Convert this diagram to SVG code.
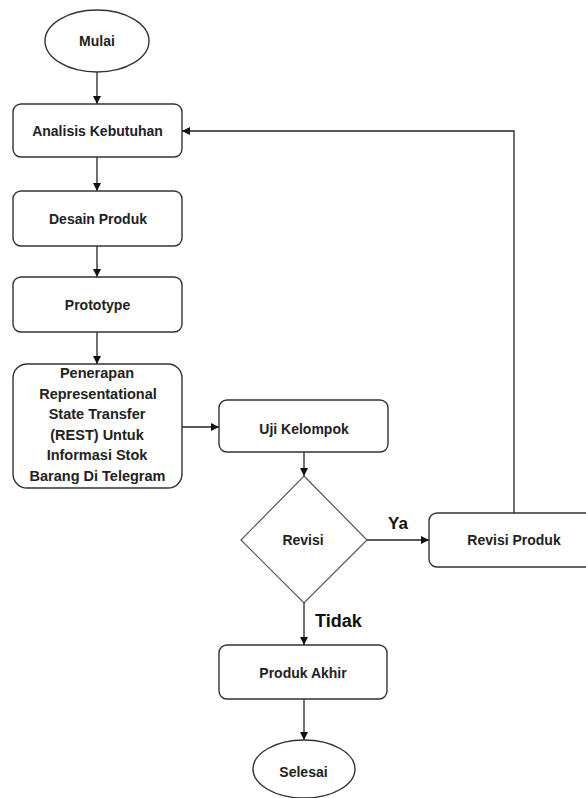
<svg xmlns="http://www.w3.org/2000/svg" width="586" height="798" viewBox="0 0 586 798">
<style>
.box{fill:#fff;stroke:#333;stroke-width:1.4}
.dia{fill:#fff;stroke:#555;stroke-width:1.2}
.lbl{font-family:"Liberation Sans",Arial,sans-serif;font-weight:bold;font-size:14px;fill:#222;text-anchor:middle}
.big{font-size:14.5px}
.yn{font-family:"Liberation Sans",Arial,sans-serif;font-weight:bold;fill:#111}
.con{fill:none;stroke:#222;stroke-width:1.3}
</style>
<defs>
<marker id="ah" viewBox="0 0 10 10" refX="10" refY="5" markerWidth="8" markerHeight="8" markerUnits="userSpaceOnUse" orient="auto">
<path d="M0,0 L10,5 L0,10 z" fill="#111"/>
</marker>
</defs>
<rect width="586" height="798" fill="#fff"/>
<g id="connectors">
<line class="con" x1="97" y1="72" x2="97" y2="104" marker-end="url(#ah)"/>
<line class="con" x1="97" y1="157" x2="97" y2="191" marker-end="url(#ah)"/>
<line class="con" x1="97" y1="246" x2="97" y2="277" marker-end="url(#ah)"/>
<line class="con" x1="97" y1="332" x2="97" y2="364" marker-end="url(#ah)"/>
<line class="con" x1="182" y1="427" x2="219" y2="427" marker-end="url(#ah)"/>
<line class="con" x1="304" y1="452" x2="304" y2="476" marker-end="url(#ah)"/>
<line class="con" x1="367" y1="540" x2="429" y2="540" marker-end="url(#ah)"/>
<polyline class="con" points="514,513 514,131 182,131" marker-end="url(#ah)"/>
<line class="con" x1="304" y1="603" x2="304" y2="645" marker-end="url(#ah)"/>
<line class="con" x1="304" y1="699" x2="304" y2="740" marker-end="url(#ah)"/>
<text class="yn" x="388" y="529" font-size="17">Ya</text>
<text class="yn" x="315" y="627" font-size="18">Tidak</text>
</g>
<g id="mulai">
<ellipse class="box" cx="97" cy="41" rx="52" ry="31"/>
<text class="lbl" x="97" y="46">Mulai</text>
</g>
<g id="analisis">
<rect class="box" x="13" y="104" width="169" height="53" rx="8"/>
<text class="lbl" x="97.5" y="136">Analisis Kebutuhan</text>
</g>
<g id="desain">
<rect class="box" x="13" y="191" width="169" height="55" rx="8"/>
<text class="lbl" x="98" y="224">Desain Produk</text>
</g>
<g id="prototype">
<rect class="box" x="13" y="277" width="169" height="55" rx="8"/>
<text class="lbl" x="97.5" y="310">Prototype</text>
</g>
<g id="penerapan">
<rect class="box" x="13" y="364" width="169" height="124" rx="14"/>
<text class="lbl big" x="97" y="378">Penerapan</text>
<text class="lbl big" x="98" y="398.5">Representational</text>
<text class="lbl big" x="97" y="419">State Transfer</text>
<text class="lbl big" x="97" y="439.5">(REST) Untuk</text>
<text class="lbl big" x="97" y="460">Informasi Stok</text>
<text class="lbl big" x="97.5" y="481">Barang Di Telegram</text>
</g>
<g id="uji">
<rect class="box" x="219" y="400" width="169" height="52" rx="8"/>
<text class="lbl" x="304" y="434">Uji Kelompok</text>
</g>
<g id="revisi">
<polygon class="dia" points="304,476 367,540 304,603 241,540"/>
<text class="lbl" x="303" y="545">Revisi</text>
</g>
<g id="revisi-produk">
<rect class="box" x="429" y="513" width="175" height="54" rx="8"/>
<text class="lbl" x="514" y="545">Revisi Produk</text>
</g>
<g id="produk-akhir">
<rect class="box" x="219" y="645" width="168" height="54" rx="8"/>
<text class="lbl" x="303" y="678">Produk Akhir</text>
</g>
<g id="selesai">
<ellipse class="box" cx="304" cy="769" rx="51" ry="29"/>
<text class="lbl" x="303.5" y="777">Selesai</text>
</g>
</svg>
